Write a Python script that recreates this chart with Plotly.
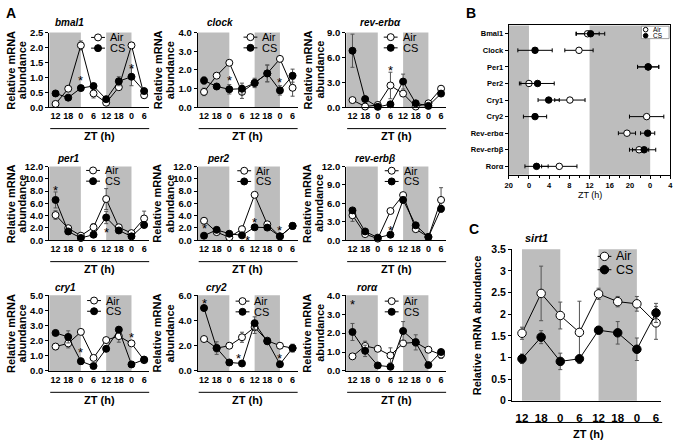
import plotly.graph_objects as go

W, H = 682, 446

# ---------------- data ----------------
zt_labels = ["12", "18", "0", "6", "12", "18", "0", "6"]

gene_names = ["bmal1", "clock", "rev-erbα", "per1", "per2", "rev-erbβ", "cry1", "cry2", "rorα"]

bmal1_air = [0.11, 0.62, 2.07, 0.46, 0.15, 0.67, 2.07, 0.40]
bmal1_air_err = [0.03, 0.05, 0.15, 0.15, 0.03, 0.05, 0.10, 0.08]
bmal1_cs = [0.46, 0.32, 0.64, 0.71, 0.27, 0.87, 1.02, 0.54]
bmal1_cs_err = [0.05, 0.05, 0.08, 0.05, 0.05, 0.15, 0.30, 0.05]
bmal1_stars = [(2, 0.98), (6, 1.40)]

clock_air = [0.82, 1.69, 2.38, 0.82, 1.30, 1.81, 2.59, 1.04]
clock_air_err = [0.20, 0.05, 0.10, 0.35, 0.10, 0.45, 0.10, 0.45]
clock_cs = [1.43, 1.11, 0.96, 0.99, 1.30, 1.81, 0.90, 1.69]
clock_cs_err = [0.20, 0.10, 0.25, 0.30, 0.25, 0.45, 0.25, 0.35]
clock_stars = [(2, 1.6), (6, 1.5)]

reva_air = [0.86, 0.08, 0.27, 2.62, 1.64, 0.08, 0.47, 2.23]
reva_air_err = [0.20, 0.10, 0.10, 1.60, 0.30, 0.10, 0.10, 0.30]
reva_cs = [6.81, 0.98, 0.04, 0.35, 3.09, 0.47, 0.16, 1.64]
reva_cs_err = [2.00, 0.20, 0.10, 0.30, 0.90, 0.10, 0.10, 0.30]
reva_stars = [(0, 9.3), (3, 4.8)]

per1_air = [4.10, 1.96, 0.74, 2.11, 6.71, 2.11, 1.16, 3.54]
per1_air_err = [0.70, 0.30, 0.20, 0.60, 1.70, 0.30, 0.20, 1.20]
per1_cs = [6.56, 1.43, 0.37, 0.90, 3.70, 1.59, 0.63, 2.48]
per1_cs_err = [1.30, 0.30, 0.10, 0.20, 1.00, 0.20, 0.10, 0.30]
per1_stars = [(0, 8.6), (4, 1.7)]

per2_air = [3.17, 1.32, 0.48, 1.80, 7.40, 2.59, 0.63, 2.33]
per2_air_err = [0.50, 0.20, 0.20, 0.30, 0.20, 0.30, 0.10, 0.50]
per2_cs = [0.74, 1.69, 1.06, 0.79, 2.11, 2.06, 0.63, 2.33]
per2_cs_err = [0.20, 0.20, 0.20, 0.20, 0.30, 0.30, 0.10, 0.50]
per2_stars = [(0, 2.4), (3.4, 0.4), (4, 3.4), (6, 2.0)]

revb_air = [4.07, 1.00, 0.26, 4.76, 7.35, 1.80, 0.53, 6.56]
revb_air_err = [1.00, 0.20, 0.10, 0.30, 0.30, 0.30, 0.10, 2.00]
revb_cs = [4.86, 1.43, 0.42, 0.90, 6.56, 2.43, 0.53, 5.13]
revb_cs_err = [0.30, 0.20, 0.10, 0.20, 0.50, 0.30, 0.10, 0.50]
revb_stars = [(3, 2.0)]

cry1_air = [1.61, 1.82, 2.58, 0.86, 2.04, 2.30, 1.82, 0.71]
cry1_air_err = [0.20, 0.30, 0.10, 0.10, 0.10, 0.40, 0.10, 0.10]
cry1_cs = [2.51, 2.25, 0.64, 0.32, 1.46, 2.73, 0.43, 0.75]
cry1_cs_err = [0.10, 0.40, 0.20, 0.05, 0.10, 0.20, 0.05, 0.10]
cry1_stars = [(2, 1.4), (6, 2.4)]

cry2_air = [2.53, 1.81, 2.00, 2.67, 3.47, 2.40, 2.00, 1.81]
cry2_air_err = [0.20, 0.30, 0.10, 0.40, 0.50, 0.20, 0.20, 0.30]
cry2_cs = [4.99, 1.81, 0.67, 0.59, 3.79, 2.35, 0.53, 1.81]
cry2_cs_err = [0.20, 0.50, 0.10, 0.10, 0.50, 0.20, 0.10, 0.30]
cry2_stars = [(0, 5.6), (2.75, 1.2), (6, 1.2)]

rora_air = [0.77, 1.32, 1.17, 0.82, 1.46, 1.51, 1.12, 0.86]
rora_air_err = [0.10, 0.25, 0.10, 0.40, 0.10, 0.20, 0.10, 0.20]
rora_cs = [2.06, 1.06, 0.29, 0.22, 2.11, 1.51, 0.31, 1.00]
rora_cs_err = [0.45, 0.30, 0.10, 0.10, 0.50, 0.40, 0.05, 0.10]
rora_stars = [(0, 3.66)]

y_max_A = [2.5, 4.0, 9.0, 12.0, 12.0, 12.0, 5.0, 6.0, 4.0]
y_dtick_A = [0.5, 1.0, 3.0, 2.0, 2.0, 3.0, 1.0, 2.0, 1.0]

# Panel B: peak phase (ZT, h; 24-28 shown as 0-4)
phase_genes = ["Bmal1", "Clock", "Per1", "Per2", "Cry1", "Cry2", "Rev-erbα", "Rev-erbβ", "Rorα"]
phase_air = [11.6, 9.9, 23.6, 0.0, 8.1, 23.3, 19.4, 21.8, 6.0]
phase_air_err = [2.3, 2.8, 2.1, 1.9, 3.0, 3.4, 1.7, 1.9, 3.5]
phase_cs = [12.2, 1.2, 23.6, 1.7, 3.9, 1.2, 23.5, 22.8, 1.5]
phase_cs_err = [2.8, 3.4, 2.1, 3.3, 2.1, 2.3, 1.4, 2.3, 2.3]
phase_tickvals = [-4, 0, 4, 8, 12, 16, 20, 24, 28]
phase_ticklabels = ["20", "0", "4", "8", "12", "16", "20", "0", "4"]

# Panel C: sirt1
sirt1_air = [1.56, 2.48, 1.97, 1.58, 2.47, 2.29, 2.24, 1.80]
sirt1_air_err = [0.14, 0.63, 0.31, 0.72, 0.13, 0.12, 0.17, 0.38]
sirt1_cs = [0.97, 1.47, 0.91, 0.97, 1.63, 1.57, 1.19, 2.03]
sirt1_cs_err = [0.11, 0.15, 0.19, 0.00, 0.00, 0.26, 0.26, 0.22]

panels_A = [
    (bmal1_air, bmal1_air_err, bmal1_cs, bmal1_cs_err, bmal1_stars),
    (clock_air, clock_air_err, clock_cs, clock_cs_err, clock_stars),
    (reva_air, reva_air_err, reva_cs, reva_cs_err, reva_stars),
    (per1_air, per1_air_err, per1_cs, per1_cs_err, per1_stars),
    (per2_air, per2_air_err, per2_cs, per2_cs_err, per2_stars),
    (revb_air, revb_air_err, revb_cs, revb_cs_err, revb_stars),
    (cry1_air, cry1_air_err, cry1_cs, cry1_cs_err, cry1_stars),
    (cry2_air, cry2_air_err, cry2_cs, cry2_cs_err, cry2_stars),
    (rora_air, rora_air_err, rora_cs, rora_cs_err, rora_stars),
]

# ---------------- layout helpers ----------------
FONT = "Liberation Sans, Arial, sans-serif"
GRAY = "#bdbdbd"
ERR = "#555555"


def P(x):
    return x / W


def Q(y):
    return 1 - y / H


def names(n):
    s = "" if n == 1 else str(n)
    return "xaxis" + s, "yaxis" + s, "x" + s, "y" + s


fig = go.Figure()
layout = {}
shapes = []
annos = []


def text(x, y, t, size, xanchor="center", angle=0, bold=True, italic=False, yanchor="middle"):
    if italic:
        t = "<i>" + t + "</i>"
    if bold:
        t = "<b>" + t + "</b>"
    annos.append(dict(x=P(x), y=Q(y), xref="paper", yref="paper", text=t, showarrow=False,
                      xanchor=xanchor, yanchor=yanchor, textangle=angle,
                      font=dict(family=FONT, size=size, color="black")))


def hline(x0, x1, y, width=1):
    shapes.append(dict(type="line", xref="paper", yref="paper", x0=P(x0), x1=P(x1), y0=Q(y), y1=Q(y),
                       line=dict(color="black", width=width)))


def legend_manual(mx, my, gap, r, half, tsize, tdx, line=True):
    for k, (lab, fill) in enumerate([("Air", "white"), ("CS", "black")]):
        yy = my + k * gap
        if line:
            hline(mx - half, mx + half, yy)
        shapes.append(dict(type="circle", xref="paper", yref="paper", xsizemode="pixel", ysizemode="pixel",
                           xanchor=P(mx), yanchor=Q(yy), x0=-r, x1=r, y0=-r, y1=r,
                           fillcolor=fill, line=dict(color="black", width=1)))
        text(mx + tdx, yy, lab, tsize, xanchor="left", bold=False)


x_idx = list(range(len(zt_labels)))

col_px = [(45.7, 146.7), (195.7, 296.7), (345.7, 446.7)]
row_px = [(27.3, 104.0), (165.0, 240.7), (297.3, 375.0)]
title_px = [(50, 17), (203, 17), (358, 17), (52, 157), (203, 157), (353, 157), (50, 289), (202, 289), (355, 289)]
ytitle_px = [(7, 18.5), (155, 168), (306.7, 319)]
legend_px = [(95, 32.3), (249, 32), (390.7, 32), (90, 169), (242.7, 169.3), (391.7, 169.3),
             (91, 302.7), (241, 303.3), (391.7, 303.3)]


def add_series(xr, yr, x, air, air_err, cs, cs_err, msize):
    for lab, vals, errs, fill in [("Air", air, air_err, "white"), ("CS", cs, cs_err, "black")]:
        fig.add_trace(go.Scatter(
            x=x, y=vals, name=lab, mode="lines+markers", xaxis=xr, yaxis=yr, cliponaxis=False,
            line=dict(color="black", width=1),
            marker=dict(symbol="circle", size=msize, color=fill, line=dict(color="black", width=1)),
            error_y=dict(type="data", array=errs, color=ERR, thickness=1, width=2),
            showlegend=False))


for i, (air, air_err, cs, cs_err, stars) in enumerate(panels_A):
    n = i + 1
    r, c = divmod(i, 3)
    xa, ya, xr, yr = names(n)
    x0p, x1p = col_px[c]
    y0p, y1p = row_px[r]
    layout[xa] = dict(domain=[P(x0p), P(x1p)], anchor=yr, range=[-0.5, 7.4],
                      tickmode="array", tickvals=x_idx, ticktext=zt_labels,
                      showline=True, linecolor="black", linewidth=1, ticks="",
                      tickfont=dict(family=FONT, size=9, color="black", weight="bold"),
                      showgrid=False, zeroline=False)
    layout[ya] = dict(domain=[Q(y1p), Q(y0p)], anchor=xr, range=[0, y_max_A[i]], dtick=y_dtick_A[i],
                      tick0=0, tickformat=".1f", showline=True, linecolor="black", linewidth=1,
                      ticks="outside", ticklen=3, tickwidth=1, tickcolor="black",
                      tickfont=dict(family=FONT, size=9.5, color="black", weight="bold"),
                      showgrid=False, zeroline=False)
    for b0, b1 in [(-0.5, 2), (4, 6)]:
        shapes.append(dict(type="rect", xref=xr, yref=yr + " domain", x0=b0, x1=b1, y0=0, y1=1,
                           fillcolor=GRAY, line=dict(width=0), layer="below"))
    add_series(xr, yr, x_idx, air, air_err, cs, cs_err, 7)
    for sx, sy in stars:
        annos.append(dict(x=sx, y=sy, xref=xr, yref=yr, text="*", showarrow=False, yshift=-3,
                          font=dict(family=FONT, size=13, color="black")))
    tx, ty = title_px[i]
    text(tx, ty, gene_names[i], 10, xanchor="left", italic=True)
    yc = (y0p + y1p) / 2
    text(ytitle_px[c][0], yc, "Relative mRNA", 11, angle=-90)
    text(ytitle_px[c][1], yc, "abundance", 11, angle=-90)
    hline(x0p + 1, x1p, y1p + 22)
    text((x0p + x1p) / 2, y1p + 29.5, "ZT (h)", 11)
    mx, my = legend_px[i]
    legend_manual(mx, my, 11, 3.5, 7, 11, 10)

# ---------------- Panel B ----------------
xa, ya, xr, yr = names(10)
layout[xa] = dict(domain=[P(510), P(673.3)], anchor=yr, range=[-4, 28], tickmode="array",
                  tickvals=phase_tickvals, ticktext=phase_ticklabels,
                  showline=True, mirror=True, linecolor="black", linewidth=1,
                  ticks="outside", ticklen=3, tickcolor="black", ticklabelstandoff=0,
                  minor=dict(ticks="outside", ticklen=2, dtick=2, tick0=0, tickcolor="black"),
                  tickfont=dict(family=FONT, size=7.5, color="black", weight="bold"),
                  showgrid=False, zeroline=False)
layout[ya] = dict(domain=[Q(173.3), Q(20)], anchor=xr, type="category", categoryorder="array",
                  categoryarray=phase_genes, range=[8.5, -0.5],
                  showline=True, mirror=True, linecolor="black", linewidth=1,
                  ticks="outside", ticklen=3, tickcolor="black",
                  tickfont=dict(family=FONT, size=7.5, color="black", weight="bold"),
                  showgrid=False, zeroline=False)
for b0, b1 in [(-4, 0), (12, 24)]:
    shapes.append(dict(type="rect", xref=xr, yref=yr + " domain", x0=b0, x1=b1, y0=0, y1=1,
                       fillcolor=GRAY, line=dict(width=0), layer="below"))
for lab, vals, errs, fill in [("Air", phase_air, phase_air_err, "white"), ("CS", phase_cs, phase_cs_err, "black")]:
    fig.add_trace(go.Scatter(
        x=vals, y=phase_genes, name=lab, mode="markers", xaxis=xr, yaxis=yr, cliponaxis=False,
        marker=dict(symbol="circle", size=6.5, color=fill, line=dict(color="black", width=1)),
        error_x=dict(type="data", array=errs, color="black", thickness=1, width=2),
        showlegend=False))
text(592, 194, "ZT (h)", 9, bold=False)
shapes.append(dict(type="rect", xref="paper", yref="paper", x0=P(644), x1=P(672), y0=Q(33.5), y1=Q(20.8),
                   fillcolor="white", line=dict(color="#888888", width=0.8)))
legend_manual(648.3, 24.3, 6.2, 2.3, 0, 6.5, 5, line=False)

# ---------------- Panel C ----------------
xa, ya, xr, yr = names(11)
layout[xa] = dict(domain=[P(513.3), P(664)], anchor=yr, range=[-0.52, 7.27], tickmode="array",
                  tickvals=x_idx, ticktext=zt_labels, showline=True, linecolor="black", linewidth=1,
                  ticks="", ticklabelstandoff=6,
                  tickfont=dict(family=FONT, size=11.5, color="black", weight="bold"),
                  showgrid=False, zeroline=False)
layout[ya] = dict(domain=[Q(405.7), Q(250)], anchor=xr, range=[0, 3.5], dtick=0.5, tick0=0,
                  showline=True, linecolor="black", linewidth=1, ticks="outside", ticklen=3,
                  tickcolor="black", tickfont=dict(family=FONT, size=10.5, color="black", weight="bold"),
                  showgrid=False, zeroline=False)
for b0, b1 in [(0, 2), (4, 6)]:
    shapes.append(dict(type="rect", xref=xr, yref=yr + " domain", x0=b0, x1=b1, y0=0, y1=1,
                       fillcolor=GRAY, line=dict(width=0), layer="below"))
add_series(xr, yr, x_idx, sirt1_air, sirt1_air_err, sirt1_cs, sirt1_cs_err, 8.5)
text(538, 238, "sirt1", 11, italic=True)
text(478, 328, "Relative mRNA abundance", 11, angle=-90)
hline(517, 665, 428)
text(591, 440, "ZT (h)", 11)
legend_manual(606.7, 257.3, 13.7, 4.2, 7, 12.5, 10)

# panel letters
text(6.7, 7, "A", 14)
text(472, 7.5, "B", 14)
text(475, 229, "C", 14)

fig.update_layout(width=W, height=H, margin=dict(l=0, r=0, t=0, b=0, pad=0),
                  paper_bgcolor="white", plot_bgcolor="rgba(0,0,0,0)", showlegend=False,
                  font=dict(family=FONT, color="black"), shapes=shapes, annotations=annos, **layout)

fig.write_html("out.html", config={"displayModeBar": False},
               post_script="document.body.style.margin='0';")
